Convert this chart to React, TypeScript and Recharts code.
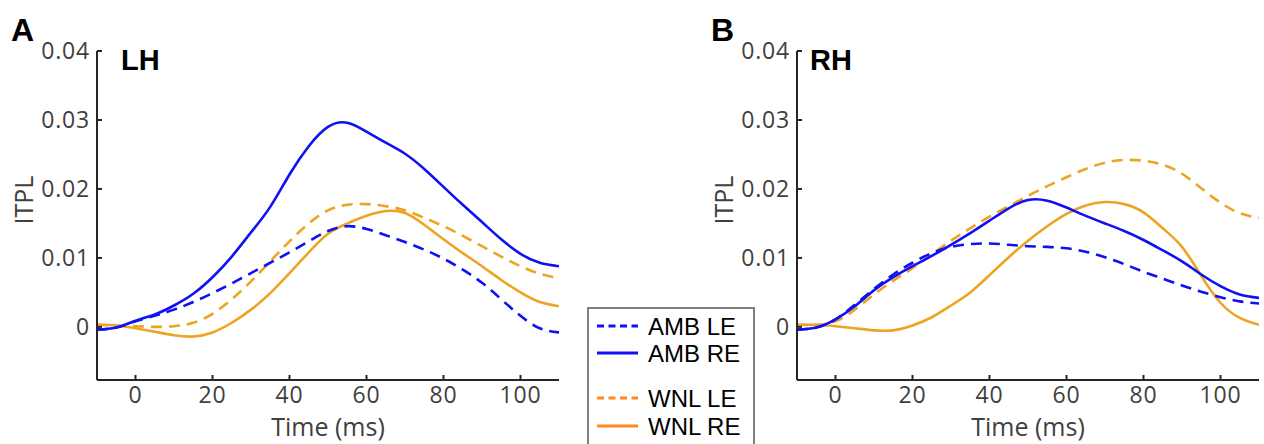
import React from "react";
import { LineChart, Line, XAxis, YAxis } from "recharts";

// sample times (ms)
const time = [-10, -5, 0, 5, 10, 15, 20, 25, 30, 35, 40, 45, 50, 55, 60, 65, 70, 75, 80, 85, 90, 95, 100, 105, 110];

// panel A - LH
const lhAmbLE = [-0.0004, -0.0001, 0.0008, 0.0016, 0.0025, 0.0036, 0.0049, 0.0063, 0.0078, 0.0093, 0.0108, 0.0124, 0.0139, 0.0146, 0.0142, 0.0133, 0.0123, 0.0112, 0.0099, 0.0083, 0.0064, 0.004, 0.0016, -0.0002, -0.0008];
const lhAmbRE = [-0.0004, -0.0001, 0.0009, 0.0018, 0.0031, 0.0048, 0.0072, 0.0102, 0.0137, 0.0174, 0.0221, 0.0262, 0.029, 0.0296, 0.0283, 0.0267, 0.0251, 0.0229, 0.0203, 0.0177, 0.0152, 0.0127, 0.0106, 0.0093, 0.0088];
const lhWnlLE = [0.0003, 0.0002, 0.0001, 0.0, 0.0001, 0.0006, 0.0019, 0.004, 0.0066, 0.0095, 0.0124, 0.015, 0.0169, 0.0177, 0.0178, 0.0175, 0.0169, 0.0158, 0.0146, 0.0132, 0.0117, 0.0102, 0.0088, 0.0077, 0.0071];
const lhWnlRE = [0.0003, 0.0002, -0.0002, -0.0007, -0.0012, -0.0014, -0.0008, 0.0006, 0.0025, 0.0049, 0.0078, 0.0108, 0.0135, 0.015, 0.0161, 0.0168, 0.0165, 0.0148, 0.0127, 0.0107, 0.0088, 0.0068, 0.005, 0.0036, 0.003];

// panel B - RH
const rhAmbLE = [-0.0004, -0.0001, 0.0011, 0.0032, 0.0055, 0.0076, 0.0093, 0.0107, 0.0116, 0.012, 0.0121, 0.0119, 0.0117, 0.0116, 0.0114, 0.0109, 0.0101, 0.0091, 0.008, 0.007, 0.006, 0.0051, 0.0043, 0.0037, 0.0034];
const rhAmbRE = [-0.0004, -0.0001, 0.0011, 0.003, 0.0053, 0.0072, 0.0088, 0.0103, 0.0119, 0.0136, 0.0154, 0.0172, 0.0184, 0.0183, 0.0173, 0.0161, 0.015, 0.0139, 0.0126, 0.0111, 0.0095, 0.0076, 0.0059, 0.0047, 0.0042];
const rhWnlLE = [0.0003, 0.0003, 0.0008, 0.0025, 0.0047, 0.0067, 0.0085, 0.0105, 0.0125, 0.0143, 0.016, 0.0175, 0.019, 0.0204, 0.0217, 0.0229, 0.0238, 0.0242, 0.0241, 0.0235, 0.0222, 0.0201, 0.018, 0.0165, 0.0158];
const rhWnlRE = [0.0003, 0.0003, 0.0001, -0.0002, -0.0005, -0.0005, 0.0002, 0.0014, 0.0031, 0.005, 0.0075, 0.0101, 0.0125, 0.0146, 0.0164, 0.0176, 0.0181, 0.0178, 0.0166, 0.0143, 0.0116, 0.0074, 0.0035, 0.0013, 0.0003];

const xTicks = [0, 20, 40, 60, 80, 100];
const yTicks = [0, 0.01, 0.02, 0.03, 0.04];

const BLUE = "#1010f5";
const ORANGE = "#eea423";
const LEGEND_ORANGE = "#ff8a1e";
const AXIS = "#262626";
const TICK_TEXT = "#404040";

const series = [
  { key: "wnlLE", name: "WNL LE", color: ORANGE, legendColor: LEGEND_ORANGE, dashed: true },
  { key: "wnlRE", name: "WNL RE", color: ORANGE, legendColor: LEGEND_ORANGE, dashed: false },
  { key: "ambLE", name: "AMB LE", color: BLUE, legendColor: BLUE, dashed: true },
  { key: "ambRE", name: "AMB RE", color: BLUE, legendColor: BLUE, dashed: false },
];

const buildRows = (ambLE: number[], ambRE: number[], wnlLE: number[], wnlRE: number[]) =>
  time.map((t, i) => ({ t, ambLE: ambLE[i], ambRE: ambRE[i], wnlLE: wnlLE[i], wnlRE: wnlRE[i] }));

const lhData = buildRows(lhAmbLE, lhAmbRE, lhWnlLE, lhWnlRE);
const rhData = buildRows(rhAmbLE, rhAmbRE, rhWnlLE, rhWnlRE);

const TICK_GAP = 7;

// MATLAB style ticks: marks point inwards
const YTick = (props: any) => {
  const { x, y, payload } = props;
  return (
    <g>
      <line x1={x + TICK_GAP} x2={x + TICK_GAP + 5} y1={y} y2={y} stroke={AXIS} strokeWidth={2} />
      <text x={x} y={y} dy="0.35em" textAnchor="end" fontFamily="Open Sans" fontSize={23} letterSpacing={0.8} fill={TICK_TEXT}>
        {String(payload.value)}
      </text>
    </g>
  );
};

const XTick = (props: any) => {
  const { x, y, payload } = props;
  return (
    <g>
      <line x1={x} x2={x} y1={y - TICK_GAP} y2={y - TICK_GAP - 5} stroke={AXIS} strokeWidth={2} />
      <text x={x} y={y} dy="0.7em" textAnchor="middle" fontFamily="Open Sans" fontSize={23} letterSpacing={0.8} fill={TICK_TEXT}>
        {String(payload.value)}
      </text>
    </g>
  );
};

interface PanelProps {
  data: any[];
  letter: string;
  title: string;
  titleX: number;
  left: number;
}

function Panel({ data, letter, title, titleX, left }: PanelProps) {
  return (
    <div style={{ position: "absolute", left, top: 0 }}>
      <LineChart width={580} height={444} data={data} margin={{ top: 51, right: 21, bottom: 0, left: 0 }}>
        <XAxis
          dataKey="t"
          type="number"
          domain={[-10, 110]}
          ticks={xTicks}
          interval={0}
          allowDataOverflow
          height={64}
          tickSize={0}
          tickMargin={TICK_GAP}
          tick={XTick}
          axisLine={{ stroke: AXIS, strokeWidth: 2 }}
          label={{ value: "Time (ms)", position: "insideBottom", offset: 8, fontSize: 25, fontFamily: "Open Sans", fill: TICK_TEXT }}
        />
        <YAxis
          type="number"
          domain={[-0.0077, 0.04]}
          ticks={yTicks}
          interval={0}
          allowDataOverflow
          width={97}
          tickSize={0}
          tickMargin={TICK_GAP}
          tick={YTick}
          axisLine={{ stroke: AXIS, strokeWidth: 2 }}
          label={{
            content: () => (
              <text x={23} y={200} transform="rotate(-90 23 200)" textAnchor="middle" dominantBaseline="central" fontFamily="Open Sans" fontSize={25} fill={TICK_TEXT}>
                ITPL
              </text>
            ),
          }}
        />
        {series.map((s) => (
          <Line
            key={s.key}
            type="natural"
            dataKey={s.key}
            name={s.name}
            stroke={s.color}
            strokeWidth={2.6}
            strokeDasharray={s.dashed ? "11 7" : undefined}
            dot={false}
            activeDot={false}
            isAnimationActive={false}
          />
        ))}
        <text x={11} y={41} fontFamily="Liberation Sans" fontWeight="bold" fontSize={32} fill="#000">
          {letter}
        </text>
        <text x={titleX} y={70} fontFamily="Liberation Sans" fontWeight="bold" fontSize={29} fill="#000">
          {title}
        </text>
      </LineChart>
    </div>
  );
}

const legendOrder = ["ambLE", "ambRE", "wnlLE", "wnlRE"];
const legendRowY = [19, 46, 91, 119];

function LegendBox() {
  return (
    <svg width={170} height={140} style={{ position: "absolute", left: 587, top: 307 }}>
      <rect x={1} y={1} width={166} height={200} fill="#fff" stroke="#7f7f7f" strokeWidth={2} />
      {legendOrder.map((k, i) => {
        const s = series.find((d) => d.key === k)!;
        const y = legendRowY[i];
        return (
          <g key={k}>
            <line x1={10} x2={51} y1={y} y2={y} stroke={s.legendColor} strokeWidth={3} strokeDasharray={s.dashed ? "7 4.5" : undefined} />
            <text x={61} y={y + 9} fontFamily="Liberation Sans" fontSize={24} fill="#000">
              {s.name}
            </text>
          </g>
        );
      })}
    </svg>
  );
}

export default function App() {
  return (
    <div style={{ position: "absolute", left: 0, top: 0, width: 1264, height: 444, overflow: "hidden", background: "#fff" }}>
      <Panel data={lhData} letter="A" title="LH" titleX={121} left={0} />
      <Panel data={rhData} letter="B" title="RH" titleX={110} left={700} />
      <LegendBox />
    </div>
  );
}
